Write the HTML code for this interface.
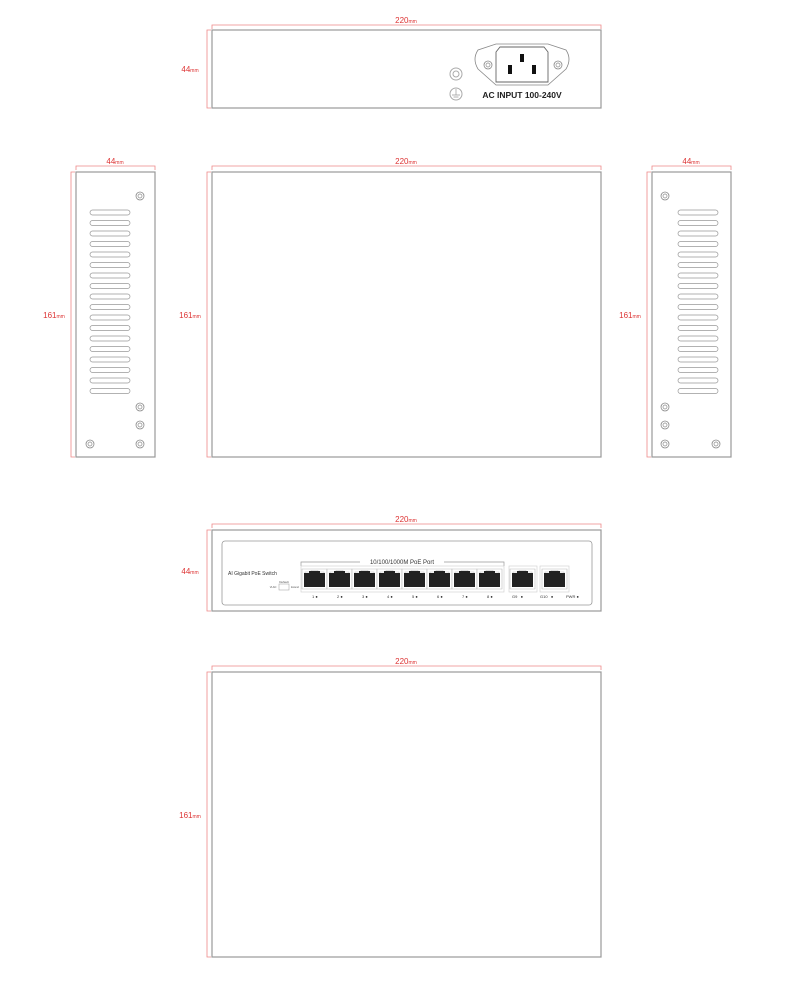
<!DOCTYPE html>
<html><head><style>body{margin:0;background:#fff}svg{display:block}</style></head><body>
<svg width="800" height="1000" viewBox="0 0 800 1000" xmlns="http://www.w3.org/2000/svg" font-family="Liberation Sans, sans-serif">
<defs>
<g id="scr"><circle r="4" fill="#fff" stroke="#888" stroke-width="0.8"/><circle r="2" fill="none" stroke="#888" stroke-width="0.7"/></g>
<g id="port"><path d="M0,0h25v20h-25z M3,3h6v-1.5h7v1.5h6v14h-19z" fill="#fff" stroke="#bbb" stroke-width="0.6"/><path d="M2,4h5v-2h11v2h5v14h-21z" fill="#222"/></g>
</defs>
<g stroke="#e88" stroke-width="0.8" fill="none">
<!-- top back view dims -->
<path d="M212,29v-4h389v4"/><path d="M211,30h-4v78h4"/>
<path d="M76,170v-4h79v4"/><path d="M75,172h-4v285h4"/>
<path d="M212,170v-4h389v4"/><path d="M211,172h-4v285h4"/>
<path d="M652,170v-4h79v4"/><path d="M651,172h-4v285h4"/>
<path d="M212,528v-4h389v4"/><path d="M211,530h-4v81h4"/>
<path d="M212,670v-4h389v4"/><path d="M211,672h-4v285h4"/>
</g>
<g fill="#d33" font-size="8" text-anchor="middle">
<text x="406" y="23">220<tspan font-size="5">mm</tspan></text>
<text x="190" y="72">44<tspan font-size="5">mm</tspan></text>
<text x="115" y="164">44<tspan font-size="5">mm</tspan></text>
<text x="406" y="164">220<tspan font-size="5">mm</tspan></text>
<text x="691" y="164">44<tspan font-size="5">mm</tspan></text>
<text x="54" y="318">161<tspan font-size="5">mm</tspan></text>
<text x="190" y="318">161<tspan font-size="5">mm</tspan></text>
<text x="630" y="318">161<tspan font-size="5">mm</tspan></text>
<text x="406" y="522">220<tspan font-size="5">mm</tspan></text>
<text x="190" y="574">44<tspan font-size="5">mm</tspan></text>
<text x="406" y="664">220<tspan font-size="5">mm</tspan></text>
<text x="190" y="818">161<tspan font-size="5">mm</tspan></text>
</g>
<g fill="none" stroke="#999" stroke-width="1.2">
<rect x="212" y="30" width="389" height="78"/>
<rect x="76" y="172" width="79" height="285"/>
<rect x="212" y="172" width="389" height="285"/>
<rect x="652" y="172" width="79" height="285"/>
<rect x="212" y="530" width="389" height="81"/>
<rect x="212" y="672" width="389" height="285"/>
</g>
<!-- back power socket -->
<path d="M496,44h52l18,6q6,9 0,19l-18,16h-52l-18,-16q-6,-10 0,-19z" fill="#fff" stroke="#888" stroke-width="0.8"/>
<path d="M500,47h44l4,5v30h-52v-30z" fill="#fff" stroke="#666" stroke-width="0.9"/>
<rect x="520" y="54" width="4" height="8" fill="#111"/><rect x="508" y="65" width="4" height="9" fill="#111"/><rect x="532" y="65" width="4" height="9" fill="#111"/>
<use href="#scr" x="488" y="65"/><use href="#scr" x="558" y="65"/>
<circle cx="456" cy="74" r="6" fill="none" stroke="#aaa"/><circle cx="456" cy="74" r="3" fill="none" stroke="#aaa"/>
<circle cx="456" cy="94" r="6" fill="none" stroke="#aaa"/><path d="M456,89v6M452,95h8M453.5,97h5" stroke="#999" stroke-width="0.7"/>
<text x="522" y="98" font-size="8.5" font-weight="bold" text-anchor="middle" fill="#222">AC INPUT 100-240V</text>
<!-- side slots -->
<g fill="none" stroke="#999" stroke-width="0.7" id="slots">
<rect x="90" y="210" width="40" height="5" rx="2.5"/><rect x="90" y="220.5" width="40" height="5" rx="2.5"/><rect x="90" y="231" width="40" height="5" rx="2.5"/><rect x="90" y="241.5" width="40" height="5" rx="2.5"/><rect x="90" y="252" width="40" height="5" rx="2.5"/><rect x="90" y="262.5" width="40" height="5" rx="2.5"/><rect x="90" y="273" width="40" height="5" rx="2.5"/><rect x="90" y="283.5" width="40" height="5" rx="2.5"/><rect x="90" y="294" width="40" height="5" rx="2.5"/><rect x="90" y="304.5" width="40" height="5" rx="2.5"/><rect x="90" y="315" width="40" height="5" rx="2.5"/><rect x="90" y="325.5" width="40" height="5" rx="2.5"/><rect x="90" y="336" width="40" height="5" rx="2.5"/><rect x="90" y="346.5" width="40" height="5" rx="2.5"/><rect x="90" y="357" width="40" height="5" rx="2.5"/><rect x="90" y="367.5" width="40" height="5" rx="2.5"/><rect x="90" y="378" width="40" height="5" rx="2.5"/><rect x="90" y="388.5" width="40" height="5" rx="2.5"/>
</g>
<use href="#slots" x="588"/>
<use href="#scr" x="140" y="196"/><use href="#scr" x="140" y="407"/><use href="#scr" x="140" y="425"/><use href="#scr" x="90" y="444"/><use href="#scr" x="140" y="444"/>
<use href="#scr" x="665" y="196"/><use href="#scr" x="665" y="407"/><use href="#scr" x="665" y="425"/><use href="#scr" x="665" y="444"/><use href="#scr" x="716" y="444"/>
<!-- front panel -->
<rect x="222" y="541" width="370" height="64" rx="3" fill="none" stroke="#999" stroke-width="0.8"/>
<text x="228" y="575" font-size="5" fill="#333">AI Gigabit PoE Switch</text>
<rect x="279" y="584" width="10" height="6" fill="none" stroke="#999" stroke-width="0.5"/>
<text x="284" y="583" font-size="3" text-anchor="middle" fill="#555">Default</text>
<text x="273" y="588" font-size="2.5" text-anchor="middle" fill="#555">VLAN</text>
<text x="295" y="588" font-size="2.5" text-anchor="middle" fill="#555">Extend</text>
<path d="M301,566v-4h203v4" fill="none" stroke="#999" stroke-width="0.7"/>
<rect x="360" y="558" width="84" height="8" fill="#fff"/>
<text x="402" y="564" font-size="6" text-anchor="middle" fill="#333">10/100/1000M PoE Port</text>
<rect x="301" y="566" width="203" height="26" fill="none" stroke="#ccc" stroke-width="0.6"/>
<use href="#port" x="302" y="569"/><use href="#port" x="327" y="569"/><use href="#port" x="352" y="569"/><use href="#port" x="377" y="569"/><use href="#port" x="402" y="569"/><use href="#port" x="427" y="569"/><use href="#port" x="452" y="569"/><use href="#port" x="477" y="569"/>
<rect x="509" y="566" width="28" height="26" fill="none" stroke="#ccc" stroke-width="0.6"/><use href="#port" x="510" y="569"/>
<rect x="540" y="566" width="29" height="26" fill="none" stroke="#ccc" stroke-width="0.6"/><use href="#port" x="542" y="569"/>
<g font-size="4" fill="#333">
<text x="312" y="598">1 ●</text><text x="337" y="598">2 ●</text><text x="362" y="598">3 ●</text><text x="387" y="598">4 ●</text><text x="412" y="598">5 ●</text><text x="437" y="598">6 ●</text><text x="462" y="598">7 ●</text><text x="487" y="598">8 ●</text>
<text x="512" y="598">G9 &#160; ●</text><text x="540" y="598">G10 &#160; ●</text><text x="566" y="598">PWR ●</text>
</g>
</svg>
</body></html>
